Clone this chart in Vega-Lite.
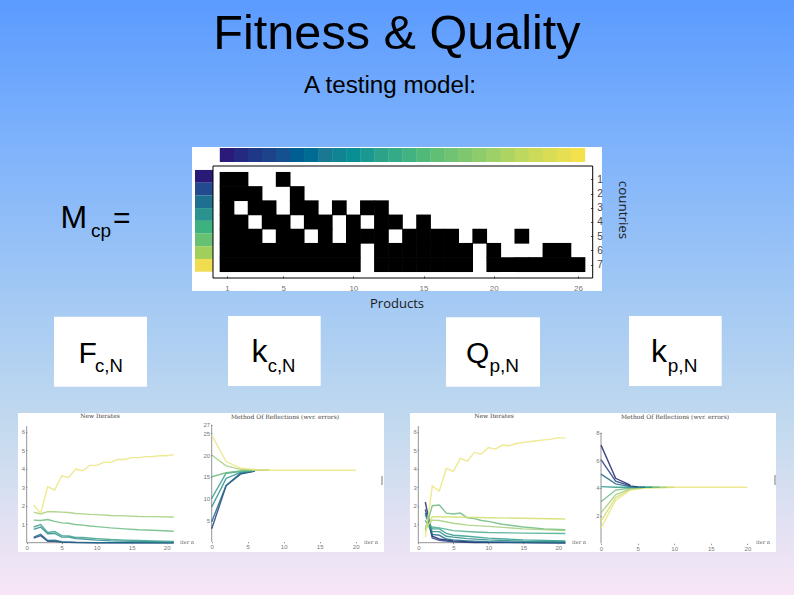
{
  "$schema": "https://vega.github.io/schema/vega-lite/v6.json",
  "width": 794,
  "height": 595,
  "padding": 0,
  "autosize": {"type": "none"},
  "view": {
    "stroke": null,
    "fill": {
      "gradient": "linear", "x1": 0, "y1": 0, "x2": 0, "y2": 1,
      "stops": [
        {"offset": 0, "color": "#5b9bff"},
        {"offset": 0.25, "color": "#7fb3fb"},
        {"offset": 0.5, "color": "#a3c9f4"},
        {"offset": 0.72, "color": "#c3daee"},
        {"offset": 1, "color": "#f8e6f6"}
      ]
    }
  },
  "resolve": {"scale": {"x": "independent", "y": "independent", "color": "independent"}},
  "data": {"values": [{"slide": 1}]},
  "datasets": {
    "matrix": [
      {"product":1,"country":1},{"product":2,"country":1},{"product":5,"country":1},
      {"product":1,"country":2},{"product":2,"country":2},{"product":3,"country":2},{"product":6,"country":2},
      {"product":1,"country":3},{"product":3,"country":3},{"product":4,"country":3},{"product":6,"country":3},{"product":7,"country":3},{"product":9,"country":3},{"product":11,"country":3},{"product":12,"country":3},
      {"product":1,"country":4},{"product":2,"country":4},{"product":4,"country":4},{"product":5,"country":4},{"product":7,"country":4},{"product":8,"country":4},{"product":10,"country":4},{"product":12,"country":4},{"product":13,"country":4},{"product":15,"country":4},
      {"product":1,"country":5},{"product":2,"country":5},{"product":3,"country":5},{"product":5,"country":5},{"product":6,"country":5},{"product":8,"country":5},{"product":10,"country":5},{"product":11,"country":5},{"product":12,"country":5},{"product":14,"country":5},{"product":15,"country":5},{"product":16,"country":5},{"product":17,"country":5},{"product":19,"country":5},{"product":22,"country":5},
      {"product":1,"country":6},{"product":2,"country":6},{"product":3,"country":6},{"product":4,"country":6},{"product":5,"country":6},{"product":6,"country":6},{"product":7,"country":6},{"product":8,"country":6},{"product":9,"country":6},{"product":10,"country":6},{"product":12,"country":6},{"product":13,"country":6},{"product":14,"country":6},{"product":15,"country":6},{"product":16,"country":6},{"product":17,"country":6},{"product":18,"country":6},{"product":20,"country":6},{"product":24,"country":6},{"product":25,"country":6},
      {"product":1,"country":7},{"product":2,"country":7},{"product":3,"country":7},{"product":4,"country":7},{"product":5,"country":7},{"product":6,"country":7},{"product":7,"country":7},{"product":8,"country":7},{"product":9,"country":7},{"product":10,"country":7},{"product":12,"country":7},{"product":13,"country":7},{"product":14,"country":7},{"product":15,"country":7},{"product":16,"country":7},{"product":17,"country":7},{"product":18,"country":7},{"product":20,"country":7},{"product":21,"country":7},{"product":22,"country":7},{"product":23,"country":7},{"product":24,"country":7},{"product":25,"country":7},{"product":26,"country":7}
    ],
    "products": [
      {"product":1},{"product":2},{"product":3},{"product":4},{"product":5},{"product":6},{"product":7},{"product":8},{"product":9},{"product":10},{"product":11},{"product":12},{"product":13},{"product":14},{"product":15},{"product":16},{"product":17},{"product":18},{"product":19},{"product":20},{"product":21},{"product":22},{"product":23},{"product":24},{"product":25},{"product":26}
    ],
    "swatches": [{"tone":1},{"tone":2},{"tone":3},{"tone":4},{"tone":5},{"tone":6},{"tone":7},{"tone":8}],
    "fitness": [
      {"c":"c7","n":1,"v":0.25},{"c":"c7","n":2,"v":0.38},{"c":"c7","n":3,"v":0.08},{"c":"c7","n":4,"v":0.08},{"c":"c7","n":5,"v":0.03},{"c":"c7","n":7,"v":0.01},{"c":"c7","n":10,"v":0},{"c":"c7","n":21,"v":0},
      {"c":"c6","n":1,"v":0.3},{"c":"c6","n":2,"v":0.45},{"c":"c6","n":3,"v":0.12},{"c":"c6","n":4,"v":0.13},{"c":"c6","n":5,"v":0.05},{"c":"c6","n":7,"v":0.02},{"c":"c6","n":10,"v":0.005},{"c":"c6","n":21,"v":0},
      {"c":"c5","n":1,"v":0.72},{"c":"c5","n":2,"v":0.85},{"c":"c5","n":3,"v":0.48},{"c":"c5","n":4,"v":0.5},{"c":"c5","n":5,"v":0.3},{"c":"c5","n":6,"v":0.31},{"c":"c5","n":7,"v":0.22},{"c":"c5","n":8,"v":0.2},{"c":"c5","n":10,"v":0.14},{"c":"c5","n":12,"v":0.1},{"c":"c5","n":15,"v":0.07},{"c":"c5","n":18,"v":0.05},{"c":"c5","n":21,"v":0.03},
      {"c":"c4","n":1,"v":0.85},{"c":"c4","n":2,"v":0.98},{"c":"c4","n":3,"v":0.55},{"c":"c4","n":4,"v":0.6},{"c":"c4","n":5,"v":0.38},{"c":"c4","n":6,"v":0.37},{"c":"c4","n":7,"v":0.28},{"c":"c4","n":8,"v":0.28},{"c":"c4","n":10,"v":0.22},{"c":"c4","n":12,"v":0.17},{"c":"c4","n":14,"v":0.14},{"c":"c4","n":16,"v":0.12},{"c":"c4","n":18,"v":0.1},{"c":"c4","n":21,"v":0.07},
      {"c":"c3","n":1,"v":1.22},{"c":"c3","n":2,"v":1.2},{"c":"c3","n":3,"v":1.25},{"c":"c3","n":4,"v":1.15},{"c":"c3","n":5,"v":1.07},{"c":"c3","n":6,"v":1.05},{"c":"c3","n":7,"v":0.98},{"c":"c3","n":8,"v":0.95},{"c":"c3","n":9,"v":0.9},{"c":"c3","n":10,"v":0.87},{"c":"c3","n":12,"v":0.8},{"c":"c3","n":14,"v":0.75},{"c":"c3","n":16,"v":0.7},{"c":"c3","n":18,"v":0.67},{"c":"c3","n":21,"v":0.62},
      {"c":"c2","n":1,"v":1.65},{"c":"c2","n":2,"v":1.55},{"c":"c2","n":3,"v":1.68},{"c":"c2","n":4,"v":1.67},{"c":"c2","n":5,"v":1.65},{"c":"c2","n":6,"v":1.63},{"c":"c2","n":7,"v":1.58},{"c":"c2","n":8,"v":1.56},{"c":"c2","n":9,"v":1.53},{"c":"c2","n":10,"v":1.52},{"c":"c2","n":12,"v":1.47},{"c":"c2","n":14,"v":1.45},{"c":"c2","n":16,"v":1.42},{"c":"c2","n":18,"v":1.41},{"c":"c2","n":21,"v":1.39},
      {"c":"c1","n":1,"v":2.04},{"c":"c1","n":2,"v":1.58},{"c":"c1","n":3,"v":3.03},{"c":"c1","n":4,"v":2.85},{"c":"c1","n":5,"v":3.62},{"c":"c1","n":6,"v":3.53},{"c":"c1","n":7,"v":3.98},{"c":"c1","n":8,"v":3.89},{"c":"c1","n":9,"v":4.18},{"c":"c1","n":10,"v":4.18},{"c":"c1","n":11,"v":4.34},{"c":"c1","n":12,"v":4.34},{"c":"c1","n":13,"v":4.5},{"c":"c1","n":14,"v":4.5},{"c":"c1","n":15,"v":4.6},{"c":"c1","n":16,"v":4.6},{"c":"c1","n":17,"v":4.65},{"c":"c1","n":18,"v":4.66},{"c":"c1","n":19,"v":4.7},{"c":"c1","n":20,"v":4.7},{"c":"c1","n":21,"v":4.76}
    ],
    "reflectC": [
      {"c":"c7","n":0,"v":3},{"c":"c7","n":2,"v":12.9},{"c":"c7","n":4,"v":15.6},{"c":"c7","n":6,"v":16.3},
      {"c":"c6","n":0,"v":4.6},{"c":"c6","n":2,"v":13},{"c":"c6","n":4,"v":15.8},{"c":"c6","n":6,"v":16.3},
      {"c":"c5","n":0,"v":8},{"c":"c5","n":2,"v":14.6},{"c":"c5","n":4,"v":16},{"c":"c5","n":6,"v":16.4},
      {"c":"c4","n":0,"v":10},{"c":"c4","n":2,"v":15.8},{"c":"c4","n":4,"v":16.2},{"c":"c4","n":6,"v":16.5},
      {"c":"c3","n":0,"v":15},{"c":"c3","n":2,"v":15.9},{"c":"c3","n":4,"v":16.3},{"c":"c3","n":6,"v":16.5},{"c":"c3","n":8,"v":16.5},
      {"c":"c2","n":0,"v":20},{"c":"c2","n":2,"v":17.5},{"c":"c2","n":4,"v":16.7},{"c":"c2","n":6,"v":16.5},{"c":"c2","n":8,"v":16.5},
      {"c":"c1","n":0,"v":24.6},{"c":"c1","n":2,"v":18.5},{"c":"c1","n":4,"v":17},{"c":"c1","n":6,"v":16.6},{"c":"c1","n":8,"v":16.5},{"c":"c1","n":20,"v":16.5}
    ],
    "quality": [
      {"c":"p8","n":1,"v":2.2},{"c":"p8","n":2,"v":0.35},{"c":"p8","n":3,"v":0.2},{"c":"p8","n":5,"v":0.1},{"c":"p8","n":8,"v":0.03},{"c":"p8","n":21,"v":0},
      {"c":"p7","n":1,"v":1.8},{"c":"p7","n":2,"v":0.25},{"c":"p7","n":3,"v":0.13},{"c":"p7","n":5,"v":0.05},{"c":"p7","n":8,"v":0.01},{"c":"p7","n":21,"v":0},
      {"c":"p6","n":1,"v":1.6},{"c":"p6","n":2,"v":0.45},{"c":"p6","n":3,"v":0.4},{"c":"p6","n":4,"v":0.2},{"c":"p6","n":5,"v":0.15},{"c":"p6","n":7,"v":0.1},{"c":"p6","n":10,"v":0.05},{"c":"p6","n":15,"v":0.02},{"c":"p6","n":21,"v":0.01},
      {"c":"p5","n":1,"v":1.2},{"c":"p5","n":2,"v":0.6},{"c":"p5","n":3,"v":0.6},{"c":"p5","n":4,"v":0.35},{"c":"p5","n":5,"v":0.3},{"c":"p5","n":7,"v":0.22},{"c":"p5","n":10,"v":0.15},{"c":"p5","n":15,"v":0.08},{"c":"p5","n":21,"v":0.05},
      {"c":"p4","n":1,"v":1.5},{"c":"p4","n":2,"v":0.75},{"c":"p4","n":3,"v":0.75},{"c":"p4","n":4,"v":0.5},{"c":"p4","n":5,"v":0.4},{"c":"p4","n":7,"v":0.35},{"c":"p4","n":10,"v":0.25},{"c":"p4","n":15,"v":0.15},{"c":"p4","n":21,"v":0.1},
      {"c":"p3","n":1,"v":0.9},{"c":"p3","n":2,"v":0.85},{"c":"p3","n":3,"v":0.8},{"c":"p3","n":5,"v":0.65},{"c":"p3","n":8,"v":0.58},{"c":"p3","n":10,"v":0.55},{"c":"p3","n":15,"v":0.52},{"c":"p3","n":21,"v":0.5},
      {"c":"p2","n":1,"v":0.7},{"c":"p2","n":2,"v":2.0},{"c":"p2","n":3,"v":2.04},{"c":"p2","n":4,"v":1.6},{"c":"p2","n":5,"v":1.55},{"c":"p2","n":6,"v":1.6},{"c":"p2","n":7,"v":1.35},{"c":"p2","n":8,"v":1.3},{"c":"p2","n":9,"v":1.2},{"c":"p2","n":10,"v":1.15},{"c":"p2","n":12,"v":1},{"c":"p2","n":15,"v":0.85},{"c":"p2","n":18,"v":0.75},{"c":"p2","n":21,"v":0.7},
      {"c":"p1b","n":1,"v":0.8},{"c":"p1b","n":2,"v":1.22},{"c":"p1b","n":3,"v":1.2},{"c":"p1b","n":5,"v":1.05},{"c":"p1b","n":7,"v":0.95},{"c":"p1b","n":10,"v":0.88},{"c":"p1b","n":15,"v":0.75},{"c":"p1b","n":21,"v":0.65},
      {"c":"p1a","n":1,"v":0.6},{"c":"p1a","n":2,"v":1.4},{"c":"p1a","n":3,"v":1.4},{"c":"p1a","n":10,"v":1.35},{"c":"p1a","n":21,"v":1.28},
      {"c":"p0","n":1,"v":0.3},{"c":"p0","n":2,"v":3.06},{"c":"p0","n":3,"v":2.8},{"c":"p0","n":4,"v":4.02},{"c":"p0","n":5,"v":3.84},{"c":"p0","n":6,"v":4.56},{"c":"p0","n":7,"v":4.41},{"c":"p0","n":8,"v":4.88},{"c":"p0","n":9,"v":4.79},{"c":"p0","n":10,"v":5.14},{"c":"p0","n":11,"v":5.06},{"c":"p0","n":12,"v":5.28},{"c":"p0","n":13,"v":5.24},{"c":"p0","n":14,"v":5.36},{"c":"p0","n":15,"v":5.42},{"c":"p0","n":16,"v":5.47},{"c":"p0","n":17,"v":5.51},{"c":"p0","n":18,"v":5.56},{"c":"p0","n":19,"v":5.6},{"c":"p0","n":20,"v":5.68},{"c":"p0","n":21,"v":5.64}
    ],
    "reflectP": [
      {"c":"p8","n":0,"v":1.1},{"c":"p8","n":2,"v":3.1},{"c":"p8","n":4,"v":3.85},{"c":"p8","n":6,"v":4},{"c":"p8","n":10,"v":4.05},{"c":"p8","n":20,"v":4.05},
      {"c":"p7","n":0,"v":1.6},{"c":"p7","n":2,"v":3.3},{"c":"p7","n":4,"v":3.9},{"c":"p7","n":6,"v":4.03},{"c":"p7","n":10,"v":4.05},
      {"c":"p6","n":0,"v":2.2},{"c":"p6","n":2,"v":3.5},{"c":"p6","n":4,"v":3.95},{"c":"p6","n":6,"v":4.04},{"c":"p6","n":9,"v":4.05},
      {"c":"p5","n":0,"v":3},{"c":"p5","n":2,"v":3.85},{"c":"p5","n":4,"v":4},{"c":"p5","n":6,"v":4.05},{"c":"p5","n":8,"v":4.05},
      {"c":"p4","n":0,"v":4.1},{"c":"p4","n":2,"v":4.05},{"c":"p4","n":4,"v":4.05},{"c":"p4","n":7,"v":4.05},
      {"c":"p3","n":0,"v":5},{"c":"p3","n":2,"v":4.3},{"c":"p3","n":4,"v":4.1},{"c":"p3","n":6,"v":4.06},
      {"c":"p2","n":0,"v":6.05},{"c":"p2","n":2,"v":4.5},{"c":"p2","n":4,"v":4.15},{"c":"p2","n":5,"v":4.08},
      {"c":"p1","n":0,"v":7.1},{"c":"p1","n":2,"v":4.7},{"c":"p1","n":4,"v":4.2}
    ]
  },
  "layer": [
    {"mark": {"type": "text", "text": "Fitness & Quality", "font": "Liberation Sans", "fontSize": 48.6, "color": "#000000", "align": "center", "baseline": "alphabetic"},
     "encoding": {"x": {"datum": 397, "type": "quantitative", "scale": {"domain": [0, 794]}, "axis": null}, "y": {"datum": 49, "type": "quantitative", "scale": {"domain": [595, 0]}, "axis": null}}},
    {"mark": {"type": "text", "text": "A testing model:", "font": "Liberation Sans", "fontSize": 24.2, "color": "#000000", "align": "center", "baseline": "alphabetic"},
     "encoding": {"x": {"datum": 390, "type": "quantitative", "scale": {"domain": [0, 794]}, "axis": null}, "y": {"datum": 93, "type": "quantitative", "scale": {"domain": [595, 0]}, "axis": null}}},

    {"mark": {"type": "rect", "color": "#ffffff"},
     "encoding": {"x": {"datum": 192, "type": "quantitative", "scale": {"domain": [0, 794]}, "axis": null}, "x2": {"datum": 602}, "y": {"datum": 147, "type": "quantitative", "scale": {"domain": [595, 0]}, "axis": null}, "y2": {"datum": 291}}},
    {"data": {"name": "products"},
     "mark": {"type": "rect", "width": 14.4},
     "encoding": {
       "x": {"field": "product", "type": "quantitative", "scale": {"domain": [-15.168, 41.385]}, "axis": null},
       "y": {"datum": -1.211, "type": "quantitative", "scale": {"domain": [30.268, -11.634]}, "axis": null},
       "y2": {"datum": -0.225},
       "color": {"field": "product", "type": "quantitative", "legend": null, "scale": {"domain": [1, 26], "range": ["#2c1a7a", "#1f4a8c", "#1f7a92", "#2aa08a", "#55bb78", "#8ccb6c", "#c5d85c", "#f3e24e"]}}
     }},
    {"data": {"name": "swatches"},
     "mark": {"type": "rect", "height": 12.8},
     "encoding": {
       "x": {"datum": 195, "type": "quantitative", "scale": {"domain": [0, 794]}, "axis": null},
       "x2": {"datum": 213},
       "y": {"field": "tone", "type": "quantitative", "scale": {"domain": [33.94, -12.875]}, "axis": null},
       "color": {"field": "tone", "type": "ordinal", "legend": null, "scale": {"domain": [1, 2, 3, 4, 5, 6, 7, 8], "range": ["#2a1a78", "#234a8f", "#1f6f90", "#2a938f", "#3db27f", "#66c172", "#a0cf5c", "#efdc4f"]}}
     }},
    {"data": {"name": "matrix"},
     "mark": {"type": "rect", "width": 14.7, "height": 14.9, "color": "#000000"},
     "encoding": {
       "x": {"field": "product", "type": "quantitative", "title": null, "scale": {"domain": [-15.168, 41.385]},
             "axis": {"orient": "bottom", "offset": -317, "zindex": 1, "values": [1, 5, 10, 15, 20, 26], "domain": false, "grid": false, "tickSize": -2, "tickColor": "#333333", "labelFontSize": 8, "labelColor": "#777777", "labelPadding": 8, "title": null}},
       "y": {"field": "country", "type": "quantitative", "title": null, "scale": {"domain": [30.268, -11.634]},
             "axis": {"orient": "right", "offset": -201.3, "zindex": 1, "values": [1, 2, 3, 4, 5, 6, 7], "domain": false, "grid": false, "tickSize": -2, "tickColor": "#222222", "labelFontSize": 10, "labelColor": "#444444", "labelPadding": 6, "title": null}}
     }},
    {"mark": {"type": "rect", "fill": null, "stroke": "#000000", "strokeWidth": 1},
     "encoding": {"x": {"datum": 213, "type": "quantitative", "scale": {"domain": [0, 794]}, "axis": null}, "x2": {"datum": 592.7}, "y": {"datum": 166, "type": "quantitative", "scale": {"domain": [595, 0]}, "axis": null}, "y2": {"datum": 278}}},
    {"mark": {"type": "text", "text": "Products", "font": "Open Sans", "fontSize": 13, "color": "#1a1a1a", "align": "center", "baseline": "middle"},
     "encoding": {"x": {"datum": 397, "type": "quantitative", "scale": {"domain": [0, 794]}, "axis": null}, "y": {"datum": 304, "type": "quantitative", "scale": {"domain": [595, 0]}, "axis": null}}},
    {"mark": {"type": "text", "text": "countries", "font": "Open Sans", "fontSize": 13.4, "color": "#1a1a1a", "align": "center", "baseline": "middle", "angle": 90},
     "encoding": {"x": {"datum": 623, "type": "quantitative", "scale": {"domain": [0, 794]}, "axis": null}, "y": {"datum": 210, "type": "quantitative", "scale": {"domain": [595, 0]}, "axis": null}}},

    {"mark": {"type": "text", "text": "M", "font": "Liberation Sans", "fontSize": 32, "color": "#000000", "align": "left", "baseline": "alphabetic"},
     "encoding": {"x": {"datum": 60.5, "type": "quantitative", "scale": {"domain": [0, 794]}, "axis": null}, "y": {"datum": 228, "type": "quantitative", "scale": {"domain": [595, 0]}, "axis": null}}},
    {"mark": {"type": "text", "text": "cp", "font": "Liberation Sans", "fontSize": 19, "color": "#000000", "align": "left", "baseline": "alphabetic"},
     "encoding": {"x": {"datum": 91, "type": "quantitative", "scale": {"domain": [0, 794]}, "axis": null}, "y": {"datum": 236.7, "type": "quantitative", "scale": {"domain": [595, 0]}, "axis": null}}},
    {"mark": {"type": "text", "text": "=", "font": "Liberation Sans", "fontSize": 30, "color": "#000000", "align": "left", "baseline": "alphabetic"},
     "encoding": {"x": {"datum": 113, "type": "quantitative", "scale": {"domain": [0, 794]}, "axis": null}, "y": {"datum": 228, "type": "quantitative", "scale": {"domain": [595, 0]}, "axis": null}}},

    {"mark": {"type": "rect", "color": "#ffffff"},
     "encoding": {"x": {"datum": 54, "type": "quantitative", "scale": {"domain": [0, 794]}, "axis": null}, "x2": {"datum": 147}, "y": {"datum": 316.7, "type": "quantitative", "scale": {"domain": [595, 0]}, "axis": null}, "y2": {"datum": 386.7}}},
    {"mark": {"type": "rect", "color": "#ffffff"},
     "encoding": {"x": {"datum": 228, "type": "quantitative", "scale": {"domain": [0, 794]}, "axis": null}, "x2": {"datum": 320.7}, "y": {"datum": 316, "type": "quantitative", "scale": {"domain": [595, 0]}, "axis": null}, "y2": {"datum": 386}}},
    {"mark": {"type": "rect", "color": "#ffffff"},
     "encoding": {"x": {"datum": 446, "type": "quantitative", "scale": {"domain": [0, 794]}, "axis": null}, "x2": {"datum": 540}, "y": {"datum": 317.3, "type": "quantitative", "scale": {"domain": [595, 0]}, "axis": null}, "y2": {"datum": 386.7}}},
    {"mark": {"type": "rect", "color": "#ffffff"},
     "encoding": {"x": {"datum": 629, "type": "quantitative", "scale": {"domain": [0, 794]}, "axis": null}, "x2": {"datum": 721.7}, "y": {"datum": 316, "type": "quantitative", "scale": {"domain": [595, 0]}, "axis": null}, "y2": {"datum": 386}}},

    {"mark": {"type": "text", "text": "F", "font": "Liberation Sans", "fontSize": 30, "color": "#000000", "align": "left", "baseline": "alphabetic"},
     "encoding": {"x": {"datum": 78.5, "type": "quantitative", "scale": {"domain": [0, 794]}, "axis": null}, "y": {"datum": 363.3, "type": "quantitative", "scale": {"domain": [595, 0]}, "axis": null}}},
    {"mark": {"type": "text", "text": "c,N", "font": "Liberation Sans", "fontSize": 18.5, "color": "#000000", "align": "left", "baseline": "alphabetic"},
     "encoding": {"x": {"datum": 95, "type": "quantitative", "scale": {"domain": [0, 794]}, "axis": null}, "y": {"datum": 371.7, "type": "quantitative", "scale": {"domain": [595, 0]}, "axis": null}}},
    {"mark": {"type": "text", "text": "k", "font": "Liberation Sans", "fontSize": 32, "color": "#000000", "align": "left", "baseline": "alphabetic"},
     "encoding": {"x": {"datum": 251.5, "type": "quantitative", "scale": {"domain": [0, 794]}, "axis": null}, "y": {"datum": 361.7, "type": "quantitative", "scale": {"domain": [595, 0]}, "axis": null}}},
    {"mark": {"type": "text", "text": "c,N", "font": "Liberation Sans", "fontSize": 18.5, "color": "#000000", "align": "left", "baseline": "alphabetic"},
     "encoding": {"x": {"datum": 267.7, "type": "quantitative", "scale": {"domain": [0, 794]}, "axis": null}, "y": {"datum": 371.7, "type": "quantitative", "scale": {"domain": [595, 0]}, "axis": null}}},
    {"mark": {"type": "text", "text": "Q", "font": "Liberation Sans", "fontSize": 30, "color": "#000000", "align": "left", "baseline": "alphabetic"},
     "encoding": {"x": {"datum": 466, "type": "quantitative", "scale": {"domain": [0, 794]}, "axis": null}, "y": {"datum": 363, "type": "quantitative", "scale": {"domain": [595, 0]}, "axis": null}}},
    {"mark": {"type": "text", "text": "p,N", "font": "Liberation Sans", "fontSize": 19, "color": "#000000", "align": "left", "baseline": "alphabetic"},
     "encoding": {"x": {"datum": 489.5, "type": "quantitative", "scale": {"domain": [0, 794]}, "axis": null}, "y": {"datum": 371.7, "type": "quantitative", "scale": {"domain": [595, 0]}, "axis": null}}},
    {"mark": {"type": "text", "text": "k", "font": "Liberation Sans", "fontSize": 32, "color": "#000000", "align": "left", "baseline": "alphabetic"},
     "encoding": {"x": {"datum": 651, "type": "quantitative", "scale": {"domain": [0, 794]}, "axis": null}, "y": {"datum": 361.7, "type": "quantitative", "scale": {"domain": [595, 0]}, "axis": null}}},
    {"mark": {"type": "text", "text": "p,N", "font": "Liberation Sans", "fontSize": 19, "color": "#000000", "align": "left", "baseline": "alphabetic"},
     "encoding": {"x": {"datum": 667.8, "type": "quantitative", "scale": {"domain": [0, 794]}, "axis": null}, "y": {"datum": 371.7, "type": "quantitative", "scale": {"domain": [595, 0]}, "axis": null}}},

    {"mark": {"type": "rect", "color": "#ffffff"},
     "encoding": {"x": {"datum": 18, "type": "quantitative", "scale": {"domain": [0, 794]}, "axis": null}, "x2": {"datum": 384}, "y": {"datum": 413, "type": "quantitative", "scale": {"domain": [595, 0]}, "axis": null}, "y2": {"datum": 552}}},
    {"mark": {"type": "rect", "color": "#ffffff"},
     "encoding": {"x": {"datum": 410, "type": "quantitative", "scale": {"domain": [0, 794]}, "axis": null}, "x2": {"datum": 776}, "y": {"datum": 413, "type": "quantitative", "scale": {"domain": [595, 0]}, "axis": null}, "y2": {"datum": 552}}},

    {"mark": {"type": "text", "text": "New Iterates", "font": "DejaVu Serif", "fontSize": 6, "color": "#444444", "align": "center", "baseline": "middle"},
     "encoding": {"x": {"datum": 100, "type": "quantitative", "scale": {"domain": [0, 794]}, "axis": null}, "y": {"datum": 416, "type": "quantitative", "scale": {"domain": [595, 0]}, "axis": null}}},
    {"mark": {"type": "text", "text": "Method Of Reflections (wvr. errors)", "font": "DejaVu Serif", "fontSize": 6, "color": "#444444", "align": "center", "baseline": "middle"},
     "encoding": {"x": {"datum": 285, "type": "quantitative", "scale": {"domain": [0, 794]}, "axis": null}, "y": {"datum": 417, "type": "quantitative", "scale": {"domain": [595, 0]}, "axis": null}}},
    {"mark": {"type": "text", "text": "New Iterates", "font": "DejaVu Serif", "fontSize": 6, "color": "#444444", "align": "center", "baseline": "middle"},
     "encoding": {"x": {"datum": 494, "type": "quantitative", "scale": {"domain": [0, 794]}, "axis": null}, "y": {"datum": 416, "type": "quantitative", "scale": {"domain": [595, 0]}, "axis": null}}},
    {"mark": {"type": "text", "text": "Method Of Reflections (wvr. errors)", "font": "DejaVu Serif", "fontSize": 6, "color": "#444444", "align": "center", "baseline": "middle"},
     "encoding": {"x": {"datum": 675, "type": "quantitative", "scale": {"domain": [0, 794]}, "axis": null}, "y": {"datum": 417, "type": "quantitative", "scale": {"domain": [595, 0]}, "axis": null}}},
    {"mark": {"type": "text", "text": "iter n", "font": "DejaVu Serif", "fontSize": 5, "color": "#555555", "align": "center", "baseline": "middle"},
     "encoding": {"x": {"datum": 187, "type": "quantitative", "scale": {"domain": [0, 794]}, "axis": null}, "y": {"datum": 542, "type": "quantitative", "scale": {"domain": [595, 0]}, "axis": null}}},
    {"mark": {"type": "text", "text": "iter n", "font": "DejaVu Serif", "fontSize": 5, "color": "#555555", "align": "center", "baseline": "middle"},
     "encoding": {"x": {"datum": 371, "type": "quantitative", "scale": {"domain": [0, 794]}, "axis": null}, "y": {"datum": 542, "type": "quantitative", "scale": {"domain": [595, 0]}, "axis": null}}},
    {"mark": {"type": "text", "text": "iter n", "font": "DejaVu Serif", "fontSize": 5, "color": "#555555", "align": "center", "baseline": "middle"},
     "encoding": {"x": {"datum": 579, "type": "quantitative", "scale": {"domain": [0, 794]}, "axis": null}, "y": {"datum": 542, "type": "quantitative", "scale": {"domain": [595, 0]}, "axis": null}}},
    {"mark": {"type": "text", "text": "iter n", "font": "DejaVu Serif", "fontSize": 5, "color": "#555555", "align": "center", "baseline": "middle"},
     "encoding": {"x": {"datum": 763, "type": "quantitative", "scale": {"domain": [0, 794]}, "axis": null}, "y": {"datum": 542, "type": "quantitative", "scale": {"domain": [595, 0]}, "axis": null}}},

    {"mark": {"type": "rule", "color": "#777777", "strokeWidth": 0.8},
     "encoding": {"x": {"datum": 0, "type": "quantitative", "scale": {"domain": [-3.814, 109.61]}, "axis": null}, "y": {"datum": 0, "type": "quantitative", "scale": {"domain": [-2.827, 29.335]}, "axis": null}, "y2": {"datum": 6.3}}},
    {"mark": {"type": "rule", "color": "#777777", "strokeWidth": 0.8},
     "encoding": {"x": {"datum": 0, "type": "quantitative", "scale": {"domain": [-3.814, 109.61]}, "axis": null}, "x2": {"datum": 21}, "y": {"datum": 0, "type": "quantitative", "scale": {"domain": [-2.827, 29.335]}, "axis": null}}},
    {"mark": {"type": "rule", "color": "#777777", "strokeWidth": 0.8},
     "encoding": {"x": {"datum": 0, "type": "quantitative", "scale": {"domain": [-29.403, 80.875]}, "axis": null}, "y": {"datum": 0, "type": "quantitative", "scale": {"domain": [-12.3, 125.01]}, "axis": null}, "y2": {"datum": 27}}},
    {"mark": {"type": "rule", "color": "#777777", "strokeWidth": 0.8},
     "encoding": {"x": {"datum": 0, "type": "quantitative", "scale": {"domain": [-59.757, 53.671]}, "axis": null}, "y": {"datum": 0, "type": "quantitative", "scale": {"domain": [-2.827, 29.335]}, "axis": null}, "y2": {"datum": 6.3}}},
    {"mark": {"type": "rule", "color": "#777777", "strokeWidth": 0.8},
     "encoding": {"x": {"datum": 0, "type": "quantitative", "scale": {"domain": [-59.757, 53.671]}, "axis": null}, "x2": {"datum": 21}, "y": {"datum": 0, "type": "quantitative", "scale": {"domain": [-2.827, 29.335]}, "axis": null}}},
    {"mark": {"type": "rule", "color": "#777777", "strokeWidth": 0.8},
     "encoding": {"x": {"datum": 0, "type": "quantitative", "scale": {"domain": [-82.104, 26.366]}, "axis": null}, "y": {"datum": 0, "type": "quantitative", "scale": {"domain": [-3.738, 39.28]}, "axis": null}, "y2": {"datum": 8}}},
    {"mark": {"type": "rule", "color": "#555555", "strokeWidth": 0.8},
     "encoding": {"x": {"datum": 382, "type": "quantitative", "scale": {"domain": [0, 794]}, "axis": null}, "y": {"datum": 476, "type": "quantitative", "scale": {"domain": [595, 0]}, "axis": null}, "y2": {"datum": 485}}},
    {"mark": {"type": "rule", "color": "#555555", "strokeWidth": 0.8},
     "encoding": {"x": {"datum": 775, "type": "quantitative", "scale": {"domain": [0, 794]}, "axis": null}, "y": {"datum": 475, "type": "quantitative", "scale": {"domain": [595, 0]}, "axis": null}, "y2": {"datum": 485}}},

    {"data": {"name": "fitness"},
     "mark": {"type": "line", "strokeWidth": 1.4, "opacity": 0.85},
     "encoding": {
       "x": {"field": "n", "type": "quantitative", "scale": {"domain": [-3.814, 109.61]},
             "axis": {"orient": "bottom", "offset": -52.3, "zindex": 1, "values": [0, 5, 10, 15, 20], "domain": false, "grid": false, "tickSize": 1, "tickColor": "#777777", "labelFontSize": 6, "labelColor": "#777777", "labelPadding": 1, "title": null}},
       "y": {"field": "v", "type": "quantitative", "scale": {"domain": [-2.827, 29.335]},
             "axis": {"orient": "left", "offset": -26.7, "zindex": 1, "values": [1, 2, 3, 4, 5, 6], "domain": false, "grid": false, "tickSize": 1, "tickColor": "#777777", "labelFontSize": 6, "labelColor": "#777777", "labelPadding": 1, "title": null}},
       "color": {"field": "c", "type": "nominal", "legend": null, "scale": {"domain": ["c1", "c2", "c3", "c4", "c5", "c6", "c7"], "range": ["#ece57f", "#a3cf7c", "#6cbb80", "#3b9f8e", "#2a8d8c", "#1f6a8a", "#24407f"]}}
     }},
    {"data": {"name": "reflectC"},
     "mark": {"type": "line", "strokeWidth": 1.4, "opacity": 0.85},
     "encoding": {
       "x": {"field": "n", "type": "quantitative", "scale": {"domain": [-29.403, 80.875]},
             "axis": {"orient": "bottom", "offset": -53.3, "zindex": 1, "values": [0, 5, 10, 15, 20], "domain": false, "grid": false, "tickSize": 1, "tickColor": "#777777", "labelFontSize": 6, "labelColor": "#777777", "labelPadding": 1, "title": null}},
       "y": {"field": "v", "type": "quantitative", "scale": {"domain": [-12.3, 125.01]},
             "axis": {"orient": "left", "offset": -211.7, "zindex": 1, "values": [5, 10, 15, 20, 25, 27], "domain": false, "grid": false, "tickSize": 1, "tickColor": "#777777", "labelFontSize": 6, "labelColor": "#777777", "labelPadding": 1, "title": null}},
       "color": {"field": "c", "type": "nominal", "legend": null, "scale": {"domain": ["c1", "c2", "c3", "c4", "c5", "c6", "c7"], "range": ["#ece57f", "#a3cf7c", "#6cbb80", "#3b9f8e", "#2a8d8c", "#1f6a8a", "#24407f"]}}
     }},
    {"data": {"name": "quality"},
     "mark": {"type": "line", "strokeWidth": 1.4, "opacity": 0.85},
     "encoding": {
       "x": {"field": "n", "type": "quantitative", "scale": {"domain": [-59.757, 53.671]},
             "axis": {"orient": "bottom", "offset": -52.3, "zindex": 1, "values": [0, 5, 10, 15, 20], "domain": false, "grid": false, "tickSize": 1, "tickColor": "#777777", "labelFontSize": 6, "labelColor": "#777777", "labelPadding": 1, "title": null}},
       "y": {"field": "v", "type": "quantitative", "scale": {"domain": [-2.827, 29.335]},
             "axis": {"orient": "left", "offset": -418.3, "zindex": 1, "values": [1, 2, 3, 4, 5, 6], "domain": false, "grid": false, "tickSize": 1, "tickColor": "#777777", "labelFontSize": 6, "labelColor": "#777777", "labelPadding": 1, "title": null}},
       "color": {"field": "c", "type": "nominal", "legend": null, "scale": {"domain": ["p0", "p1a", "p1b", "p2", "p3", "p4", "p5", "p6", "p7", "p8"], "range": ["#ece57f", "#d3de6c", "#a3cf7c", "#6cbb80", "#4bab8e", "#2f9a8c", "#2a8d8c", "#1f6a8a", "#24407f", "#1d2670"]}}
     }},
    {"data": {"name": "reflectP"},
     "mark": {"type": "line", "strokeWidth": 1.4, "opacity": 0.85},
     "encoding": {
       "x": {"field": "n", "type": "quantitative", "scale": {"domain": [-82.104, 26.366]},
             "axis": {"orient": "bottom", "offset": -51.7, "zindex": 1, "values": [0, 5, 10, 15, 20], "domain": false, "grid": false, "tickSize": 1, "tickColor": "#777777", "labelFontSize": 6, "labelColor": "#777777", "labelPadding": 1, "title": null}},
       "y": {"field": "v", "type": "quantitative", "scale": {"domain": [-3.738, 39.28]},
             "axis": {"orient": "left", "offset": -601, "zindex": 1, "values": [2, 4, 6, 8], "domain": false, "grid": false, "tickSize": 1, "tickColor": "#777777", "labelFontSize": 6, "labelColor": "#777777", "labelPadding": 1, "title": null}},
       "color": {"field": "c", "type": "nominal", "legend": null, "scale": {"domain": ["p1", "p2", "p3", "p4", "p5", "p6", "p7", "p8"], "range": ["#1d2670", "#24407f", "#1f6a8a", "#2f9a8c", "#6cbb80", "#a3cf7c", "#d3de6c", "#ece57f"]}}
     }}
  ],
  "config": {"font": "Liberation Sans"}
}
